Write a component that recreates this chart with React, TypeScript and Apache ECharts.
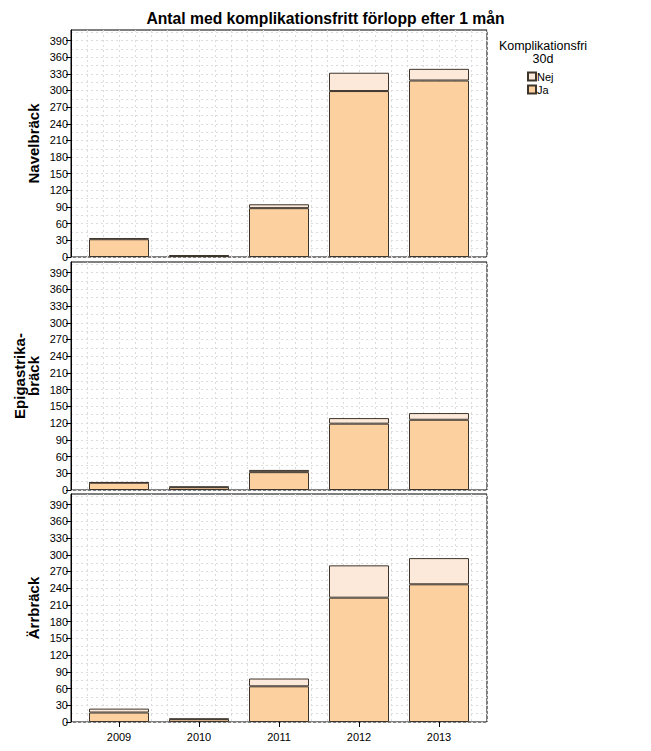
import React, { useEffect, useRef } from "react";
import * as echarts from "echarts";

const years = ["2009", "2010", "2011", "2012", "2013"];
const panelNames = ["Navelbräck", "Epigastrika-\nbräck", "Ärrbräck"];
const navelJa = [32, 2, 88, 299, 318];
const navelNej = [2, 1, 7, 33, 21];
const epiJa = [13, 5, 32, 119, 126];
const epiNej = [1, 1, 4, 10, 12];
const arrJa = [17, 5, 64, 223, 247];
const arrNej = [7, 1, 14, 58, 47];
const yTicks = [0, 30, 60, 90, 120, 150, 180, 210, 240, 270, 300, 330, 360, 390];
const legendTitleLines = ["Komplikationsfri", "30d"];
const chartTitle = "Antal med komplikationsfritt förlopp efter 1 mån";

const jaData = [navelJa, epiJa, arrJa];
const nejData = [navelNej, epiNej, arrNej];

export default function App() {
  const ref = useRef<HTMLDivElement>(null);
  useEffect(() => {
    if (!ref.current) return;
    const chart = echarts.init(ref.current, null, { renderer: "svg" });
    const font = "Liberation Sans, Arial, sans-serif";
    const gridLeft = 71;
    const gridWidth = 416;
    const innerPad = 8;
    const tops = [30, 262, 494];
    const heights = [227, 228, 228];
    const yMax = 409;
    const dotted = { color: "#dcdcdc", type: [2, 3] as any, width: 1 };

    const grids: any[] = [];
    const xAxes: any[] = [];
    const yAxes: any[] = [];
    const series: any[] = [];
    for (let i = 0; i < 3; i++) {
      const isBottom = i === 2;
      grids.push({
        left: gridLeft,
        top: tops[i],
        width: gridWidth,
        height: heights[i],
        show: true,
        borderColor: "#000",
        borderWidth: 1,
        backgroundColor: "#fff",
      });
      grids.push({
        left: gridLeft + innerPad,
        top: tops[i],
        width: gridWidth - 2 * innerPad,
        height: heights[i],
        show: false,
      });
      xAxes.push({
        type: "value",
        gridIndex: 2 * i,
        min: 0,
        max: 26,
        interval: 1,
        axisLine: { show: false },
        axisTick: { show: false },
        axisLabel: { show: false },
        splitLine: { show: true, lineStyle: dotted },
      });
      xAxes.push({
        type: "category",
        gridIndex: 2 * i + 1,
        data: years,
        axisLine: { show: false },
        axisTick: { show: isBottom, alignWithLabel: true, length: 5, lineStyle: { color: "#000" } },
        axisLabel: { show: isBottom, color: "#000", fontSize: 11, fontFamily: font, margin: 9 },
        splitLine: { show: false },
      });
      yAxes.push({
        type: "value",
        gridIndex: 2 * i,
        min: 0,
        max: yMax,
        interval: 30,
        axisLine: { show: true, lineStyle: { color: "#000" } },
        axisTick: { show: true, length: 5, lineStyle: { color: "#000" }, customValues: yTicks },
        axisLabel: { color: "#000", fontSize: 11, fontFamily: font, margin: 3, customValues: yTicks },
        splitLine: { show: true, lineStyle: dotted },
        minorTick: { show: false, splitNumber: 2 },
        minorSplitLine: { show: true, lineStyle: dotted },
      });
      yAxes.push({
        type: "value",
        gridIndex: 2 * i + 1,
        min: 0,
        max: yMax,
        show: false,
        splitLine: { show: false },
      });
      const barStyle = (color: string) => ({ color, borderColor: "#3d342c", borderWidth: 1 });
      series.push({
        type: "bar",
        name: "Ja",
        xAxisIndex: 2 * i + 1,
        yAxisIndex: 2 * i + 1,
        stack: "s" + i,
        data: jaData[i],
        barWidth: 60,
        itemStyle: barStyle("#FCD09F"),
      });
      series.push({
        type: "bar",
        name: "Nej",
        xAxisIndex: 2 * i + 1,
        yAxisIndex: 2 * i + 1,
        stack: "s" + i,
        data: nejData[i],
        barWidth: 60,
        itemStyle: barStyle("#FDE9DA"),
      });
    }

    const titleX = [33, 26, 33];
    const panelTitles: any[] = panelNames.map((n, i) => ({
      type: "text",
      x: titleX[i],
      y: tops[i] + heights[i] / 2,
      rotation: Math.PI / 2,
      style: {
        text: n,
        fontSize: 15,
        fontWeight: "bold",
        fontFamily: font,
        fill: "#000",
        align: "center",
        verticalAlign: "middle",
        lineHeight: 14,
      },
    }));

    const legendTitles: any[] = legendTitleLines.map((t, i) => ({
      type: "text",
      x: 543,
      y: 46 + i * 13,
      style: {
        text: t,
        fontSize: 12.5,
        fontFamily: font,
        fill: "#000",
        align: "center",
        verticalAlign: "middle",
      },
    }));

    chart.setOption({
      animation: false,
      backgroundColor: "#fff",
      title: {
        text: chartTitle,
        left: "center",
        top: 5,
        textStyle: { fontSize: 15.7, fontWeight: "bold", fontFamily: font, color: "#000" },
      },
      grid: grids,
      xAxis: xAxes,
      yAxis: yAxes,
      legend: {
        data: ["Nej", "Ja"],
        orient: "vertical",
        left: 527,
        top: 70,
        itemWidth: 8,
        itemHeight: 8,
        itemGap: 0,
        padding: 0,
        icon: "rect",
        selectedMode: false,
        textStyle: { fontSize: 11, fontFamily: font, color: "#000", padding: [0, 0, 0, -4], lineHeight: 13 },
      },
      graphic: [...legendTitles, ...panelTitles],
      series,
    });
    return () => chart.dispose();
  }, []);
  return (
    <div
      ref={ref}
      style={{ position: "fixed", left: 0, top: 0, width: 651, height: 751, background: "#fff" }}
    />
  );
}
